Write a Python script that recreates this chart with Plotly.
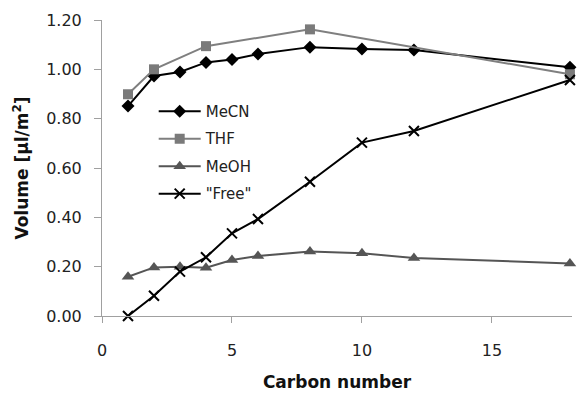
import plotly.graph_objects as go

carbon = [1, 2, 3, 4, 5, 6, 8, 10, 12, 18]
mecn = [0.851, 0.973, 0.989, 1.028, 1.040, 1.062, 1.090, 1.082, 1.078, 1.008]
thf_x = [1, 2, 4, 8, 18]
thf = [0.899, 1.000, 1.094, 1.162, 0.980]
meoh = [0.159, 0.197, 0.200, 0.196, 0.227, 0.243, 0.261, 0.254, 0.235, 0.213]
free = [0.000, 0.082, 0.180, 0.238, 0.335, 0.393, 0.544, 0.703, 0.750, 0.957]

y_ticks = [0, 0.2, 0.4, 0.6, 0.8, 1.0, 1.2]
y_tick_text = ["0.00", "0.20", "0.40", "0.60", "0.80", "1.00", "1.20"]
x_ticks = [0, 5, 10, 15]

FONT = "DejaVu Sans"

fig = go.Figure()
fig.add_trace(go.Scatter(x=carbon, y=mecn, name="MeCN", mode="lines+markers",
                         line=dict(color="#000000", width=2),
                         marker=dict(symbol="diamond", size=10, color="#000000"),
                         legendgroup="a", cliponaxis=False))
fig.add_trace(go.Scatter(x=thf_x, y=thf, name="THF", mode="lines+markers",
                         line=dict(color="#7f7f7f", width=2),
                         marker=dict(symbol="square", size=10, color="#7a7a7a"),
                         legendgroup="b", cliponaxis=False))
fig.add_trace(go.Scatter(x=carbon, y=meoh, name="MeOH", mode="lines+markers",
                         line=dict(color="#555555", width=2),
                         marker=dict(symbol="triangle-up", size=11, color="#555555"),
                         legendgroup="c", cliponaxis=False))
fig.add_trace(go.Scatter(x=carbon, y=free, name='"Free"', mode="lines+markers",
                         line=dict(color="#000000", width=2),
                         marker=dict(symbol="x-thin", size=10, color="#000000",
                                     line=dict(width=2, color="#000000")),
                         legendgroup="d", cliponaxis=False))

fig.update_layout(
    width=578, height=394,
    margin=dict(l=102, r=6, t=20, b=78),
    paper_bgcolor="white", plot_bgcolor="white",
    font=dict(family=FONT, size=16, color="#222222"),
    showlegend=True,
    legend=dict(x=0.11, y=0.747, xanchor="left", yanchor="top",
                bgcolor="rgba(0,0,0,0)", font=dict(size=15, family=FONT),
                traceorder="grouped", tracegroupgap=5, itemwidth=42),
    xaxis=dict(range=[0, 18.08], tickvals=x_ticks, showgrid=False, zeroline=False,
               showline=True, linecolor="#a0a0a0", linewidth=1,
               ticks="outside", ticklen=6, tickcolor="#a0a0a0",
               tickfont=dict(size=16, family=FONT, color="#222222"),
               ticklabelstandoff=14,
               title=dict(text="Carbon number", standoff=16,
                          font=dict(size=17, family=FONT, weight="bold", color="#111111"))),
    yaxis=dict(range=[0, 1.2], tickvals=y_ticks, ticktext=y_tick_text, showgrid=False,
               zeroline=False, showline=True, linecolor="#a0a0a0", linewidth=1,
               ticks="outside", ticklen=7, tickcolor="#a0a0a0",
               tickfont=dict(size=16, family=FONT, color="#222222"),
               ticklabelstandoff=9,
               title=dict(text="Volume [µl/m<sup>2</sup>]", standoff=13,
                          font=dict(size=17, family=FONT, weight="bold", color="#111111"))),
)

fig.write_html("out.html")
